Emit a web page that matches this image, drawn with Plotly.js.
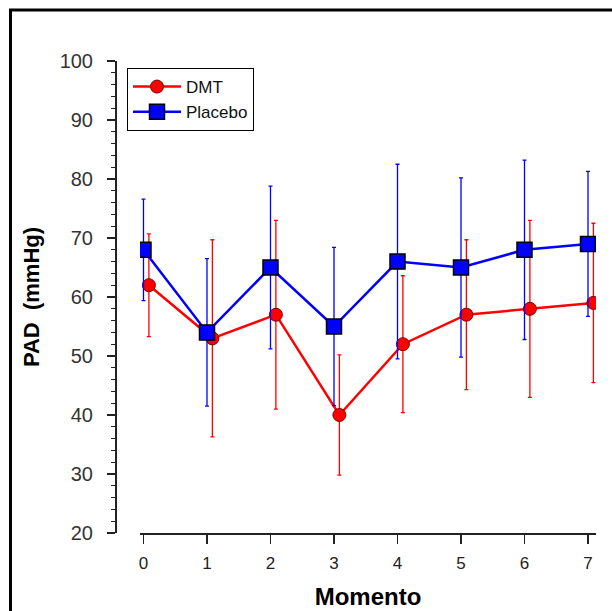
<!DOCTYPE html>
<html>
<head>
<meta charset="utf-8">
<script src="https://cdn.plot.ly/plotly-3.0.1.min.js"></script>
<style>html,body{margin:0;padding:0;background:#fff;}#chart{width:612px;height:611px;}</style>
</head>
<body>
<div id="chart"></div>
<script>
// Data
const moments = [0, 1, 2, 3, 4, 5, 6, 7];
const dmtMean = [62, 53, 57, 40, 52, 57, 58, 59];
const dmtErr = [8.7, 16.7, 16.0, 10.2, 11.6, 12.7, 15.0, 13.5];
const placeboMean = [68, 54, 65, 55, 66, 65, 68, 69];
const placeboErr = [8.6, 12.5, 13.8, 13.4, 16.5, 15.2, 15.2, 12.3];
const xTickLabels = ['0', '1', '2', '3', '4', '5', '6', '7'];

const dmtOffset = 0.085; // small horizontal dodge of DMT series
const W = 612, H = 611;
const mL = 115, mR = 16, mT = 61, mB = 78;
const plotW = W - mL - mR, plotH = H - mT - mB;
const font = 'Liberation Sans, Arial, sans-serif';

const traces = [
  {
    name: 'DMT',
    x: moments.map(m => m + dmtOffset),
    y: dmtMean,
    type: 'scatter',
    mode: 'lines+markers',
    line: {color: '#ff0000', width: 2.5},
    marker: {symbol: 'circle', size: 13, color: '#ff0000', line: {color: '#800000', width: 1}},
    error_y: {type: 'data', array: dmtErr, visible: true, color: '#ff0000', thickness: 1.3, width: 2}
  },
  {
    name: 'Placebo',
    x: moments,
    y: placeboMean,
    type: 'scatter',
    mode: 'lines+markers',
    line: {color: '#0000ff', width: 2.5},
    marker: {symbol: 'square', size: 15, color: '#0000ff', line: {color: '#000000', width: 1.5}},
    error_y: {type: 'data', array: placeboErr, visible: true, color: '#0000ff', thickness: 1.3, width: 2}
  }
];

const layout = {
  width: W, height: H,
  margin: {l: mL, r: mR, t: mT, b: mB, pad: 0},
  paper_bgcolor: '#ffffff',
  plot_bgcolor: 'rgba(0,0,0,0)',
  font: {family: font, color: '#222'},
  showlegend: true,
  legend: {
    x: (127 - mL) / plotW, y: (H - mB - 68) / plotH,
    xanchor: 'left', yanchor: 'top',
    bgcolor: '#ffffff', bordercolor: '#000000', borderwidth: 1,
    font: {family: font, size: 17, color: '#111'},
    itemwidth: 48,
    tracegroupgap: 0
  },
  xaxis: {
    domain: [(140 - mL) / plotW, 1],
    range: [-0.055, 7.126],
    tickvals: moments,
    ticktext: xTickLabels,
    ticks: 'outside', ticklen: 9, tickwidth: 1.5, tickcolor: '#222',
    showline: true, linecolor: '#222', linewidth: 1.5,
    showgrid: false, zeroline: false,
    tickfont: {family: font, size: 17, color: '#222'},
    ticklabelstandoff: 5,
    title: {text: '<b>Momento</b>', font: {family: font, size: 24, color: '#000'}, standoff: 16},
    anchor: 'y'
  },
  yaxis: {
    range: [20, 100],
    dtick: 10,
    ticks: 'outside', ticklen: 8, tickwidth: 1.5, tickcolor: '#222',
    minor: {dtick: 2, ticks: 'outside', ticklen: 4, tickwidth: 1.2, tickcolor: '#222', showgrid: false},
    showline: true, linecolor: '#222', linewidth: 1.5,
    showgrid: false, zeroline: false,
    tickfont: {family: font, size: 20, color: '#333'},
    ticklabelstandoff: 10,
    title: {text: '<b>PAD\u00a0\u00a0(mmHg)</b>', font: {family: font, size: 22, color: '#000'}, standoff: 12},
    anchor: 'free', position: 0
  },
  shapes: [
    {
      type: 'rect', xref: 'paper', yref: 'paper',
      x0: (10.5 - mL) / plotW, x1: (640 - mL) / plotW,
      y0: (H - mB - 640) / plotH, y1: (H - mB - 10) / plotH,
      line: {color: '#000', width: 3}, fillcolor: 'rgba(0,0,0,0)', layer: 'above'
    }
  ]
};

Plotly.newPlot('chart', traces, layout, {staticPlot: true, displayModeBar: false});
</script>
</body>
</html>
